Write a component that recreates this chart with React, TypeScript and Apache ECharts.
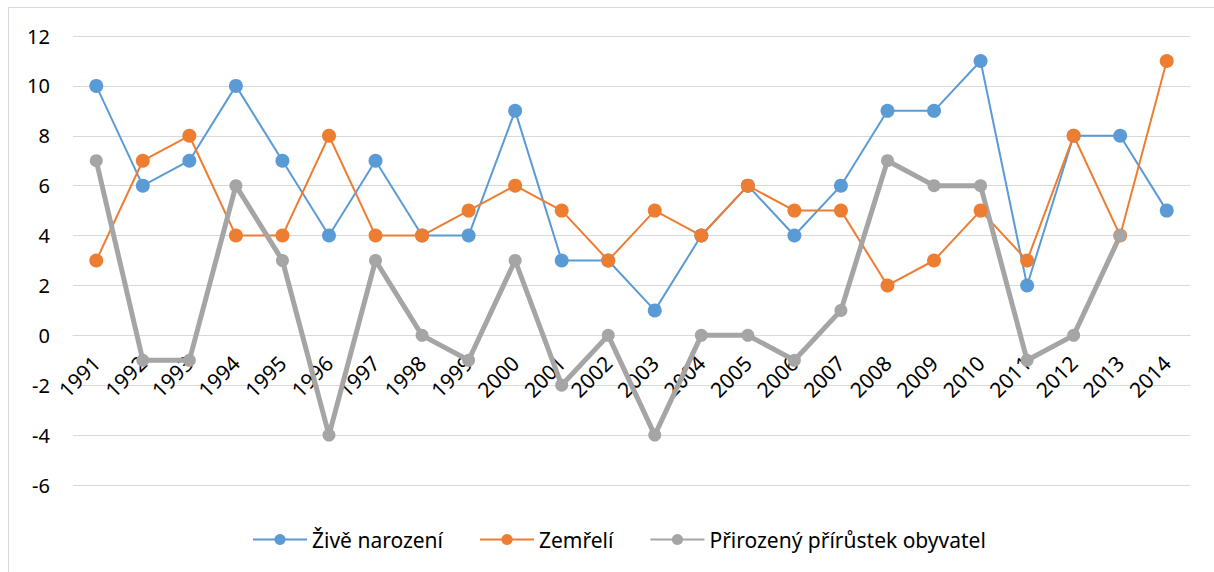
import React, { useEffect, useRef } from "react";
import * as echarts from "echarts";

const years = ["1991","1992","1993","1994","1995","1996","1997","1998","1999","2000","2001","2002","2003","2004","2005","2006","2007","2008","2009","2010","2011","2012","2013","2014"];
const births = [10, 6, 7, 10, 7, 4, 7, 4, 4, 9, 3, 3, 1, 4, 6, 4, 6, 9, 9, 11, 2, 8, 8, 5];
const deaths = [3, 7, 8, 4, 4, 8, 4, 4, 5, 6, 5, 3, 5, 4, 6, 5, 5, 2, 3, 5, 3, 8, 4, 11];
const natural = [7, -1, -1, 6, 3, -4, 3, 0, -1, 3, -2, 0, -4, 0, 0, -1, 1, 7, 6, 6, -1, 0, 4, null];

const Y_MIN = -6;
const Y_MAX = 12;

const FONT = "'Noto Sans', 'Open Sans', sans-serif";

export default function App() {
  const ref = useRef<HTMLDivElement>(null);
  useEffect(() => {
    document.body.style.margin = "0";
    const chart = echarts.init(ref.current!, null, { renderer: "svg" });
    const gridTop = 36;
    const gridBottom = 87;
    const gridHeight = 572 - gridTop - gridBottom;
    const zeroOffset = -((0 - Y_MIN) / (Y_MAX - Y_MIN)) * gridHeight;
    chart.setOption({
      animation: false,
      backgroundColor: "#ffffff",
      textStyle: { fontFamily: FONT },
      graphic: [
        {
          type: "rect",
          shape: { x: 8.5, y: 7.5, width: 1230, height: 600 },
          style: { fill: "none", stroke: "#D9D9D9", lineWidth: 1 },
          silent: true,
        },
      ],
      grid: { left: 73, right: 24, top: gridTop, bottom: gridBottom },
      xAxis: {
        type: "category",
        data: years,
        boundaryGap: true,
        offset: zeroOffset,
        axisLine: { onZero: false, lineStyle: { color: "#D9D9D9", width: 1 } },
        axisTick: { show: false },
        axisLabel: {
          rotate: 45,
          margin: 24,
          fontSize: 21,
          color: "#000000",
          fontFamily: FONT,
          interval: 0,
        },
        splitLine: { show: false },
      },
      yAxis: {
        type: "value",
        min: Y_MIN,
        max: Y_MAX,
        interval: 2,
        axisLine: { show: false },
        axisTick: { show: false },
        axisLabel: { fontSize: 20, color: "#000000", margin: 23, fontFamily: FONT },
        splitLine: { lineStyle: { color: "#D9D9D9", width: 1 } },
      },
      legend: {
        left: 247,
        top: 524,
        itemWidth: 54,
        itemHeight: 14,
        itemGap: 36,
        textStyle: { fontSize: 21, color: "#000000", fontFamily: FONT },
        data: ["Živě narození", "Zemřelí", "Přirozený přírůstek obyvatel"],
      },
      series: [
        {
          name: "Živě narození",
          type: "line",
          data: births,
          symbol: "circle",
          symbolSize: 14,
          lineStyle: { color: "#5B9BD5", width: 2 },
          itemStyle: { color: "#5B9BD5" },
        },
        {
          name: "Zemřelí",
          type: "line",
          data: deaths,
          symbol: "circle",
          symbolSize: 14,
          lineStyle: { color: "#ED7D31", width: 2 },
          itemStyle: { color: "#ED7D31" },
        },
        {
          name: "Přirozený přírůstek obyvatel",
          type: "line",
          data: natural,
          symbol: "circle",
          symbolSize: 13,
          lineStyle: { color: "#A5A5A5", width: 5 },
          itemStyle: { color: "#A5A5A5" },
        },
      ],
    });
    return () => chart.dispose();
  }, []);
  return (
    <div
      ref={ref}
      style={{ position: "fixed", left: 0, top: 0, width: 1214, height: 572 }}
    />
  );
}
